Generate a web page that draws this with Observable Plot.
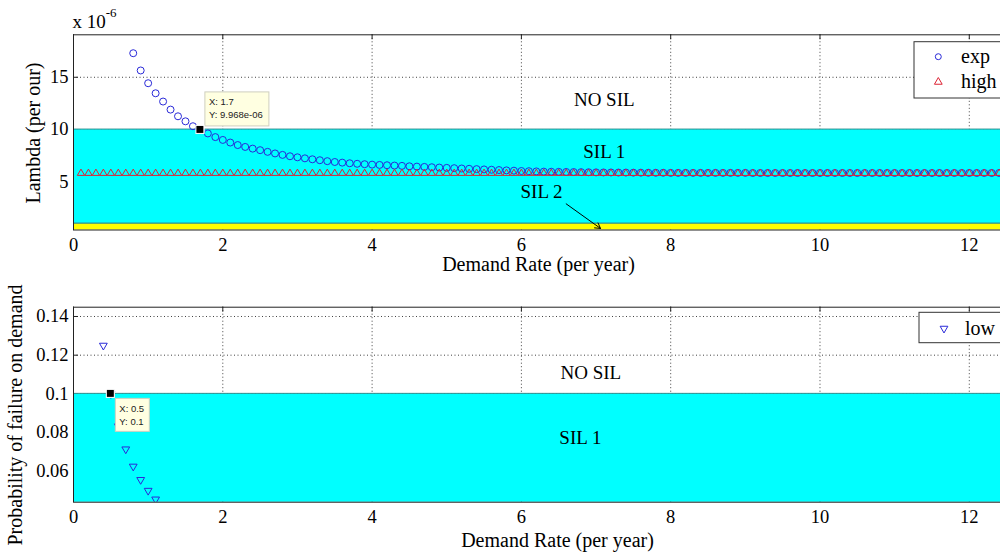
<!DOCTYPE html>
<html><head><meta charset="utf-8">
<script src="https://cdn.jsdelivr.net/npm/d3@7"></script>
<script src="https://cdn.jsdelivr.net/npm/@observablehq/plot@0.6"></script>
<style>
html,body{margin:0;padding:0;background:#fff;overflow:hidden;}
#fig{position:relative;width:1000px;height:555px;overflow:hidden;background:#fff;}
#fig svg{position:absolute;left:0;overflow:visible;max-width:none !important;}
</style></head><body><div id="fig"></div>
<script>
// ---------------- data ----------------
const xTicks = [0, 2, 4, 6, 8, 10, 12];
const topYTicks = [5, 10, 15];           // Lambda, x 10^-6
const bottomYTicks = [0.06, 0.08, 0.1, 0.12, 0.14];

// "exp" series: demand rate (per year) -> lambda (x 10^-6 per hour)
const expRate = [0.8,0.9,1.0,1.1,1.2,1.3,1.4,1.5,1.6,1.7,1.8,1.9,2.0,2.1,2.2,2.3,2.4,2.5,2.6,2.7,2.8,2.9,3.0,3.1,3.2,3.3,3.4,3.5,3.6,3.7,3.8,3.9,4.0,4.1,4.2,4.3,4.4,4.5,4.6,4.7,4.8,4.9,5.0,5.1,5.2,5.3,5.4,5.5,5.6,5.7,5.8,5.9,6.0,6.1,6.2,6.3,6.4,6.5,6.6,6.7,6.8,6.9,7.0,7.1,7.2,7.3,7.4,7.5,7.6,7.7,7.8,7.9,8.0,8.1,8.2,8.3,8.4,8.5,8.6,8.7,8.8,8.9,9.0,9.1,9.2,9.3,9.4,9.5,9.6,9.7,9.8,9.9,10.0,10.1,10.2,10.3,10.4,10.5,10.6,10.7,10.8,10.9,11.0,11.1,11.2,11.3,11.4,11.5,11.6,11.7,11.8,11.9,12.0,12.1,12.2,12.3,12.4];
const expLambda = [17.30,15.65,14.43,13.47,12.68,11.91,11.27,10.79,10.32,9.968,
  9.63,9.28,9.01,8.76,8.52,8.34,8.18,8.03,7.87,7.72,
  7.58,7.45,7.35,7.25,7.16,7.07,6.98,6.90,6.84,6.78,
  6.73,6.69,6.65,6.62,6.59,6.56,6.53,6.49,6.46,6.43,
  6.40,6.37,6.34,6.31,6.28,6.25,6.22,6.19,6.16,6.13,
  6.10,6.07,6.04,6.02,6.00,5.98,5.97,5.96,5.95,5.94,
  5.93,5.92,5.91,5.90,5.90,5.89,5.89,5.88,5.88,5.87,
  5.87,5.87,5.86,5.86,5.86,5.86,5.86,5.86,5.86,5.86,
  5.86,5.86,5.86,5.85,5.85,5.85,5.85,5.85,5.85,5.85,
  5.85,5.85,5.85,5.85,5.85,5.85,5.85,5.85,5.85,5.85,
  5.85,5.85,5.85,5.85,5.85,5.85,5.85,5.85,5.85,5.85,
  5.85,5.85,5.85,5.85,5.85,5.85,5.85];

// "high" series: constant lambda over the demand rate
const highRate = [0.1,0.2,0.3,0.4,0.5,0.6,0.7,0.8,0.9,1.0,1.1,1.2,1.3,1.4,1.5,1.6,1.7,1.8,1.9,2.0,2.1,2.2,2.3,2.4,2.5,2.6,2.7,2.8,2.9,3.0,3.1,3.2,3.3,3.4,3.5,3.6,3.7,3.8,3.9,4.0,4.1,4.2,4.3,4.4,4.5,4.6,4.7,4.8,4.9,5.0,5.1,5.2,5.3,5.4,5.5,5.6,5.7,5.8,5.9,6.0,6.1,6.2,6.3,6.4,6.5,6.6,6.7,6.8,6.9,7.0,7.1,7.2,7.3,7.4,7.5,7.6,7.7,7.8,7.9,8.0,8.1,8.2,8.3,8.4,8.5,8.6,8.7,8.8,8.9,9.0,9.1,9.2,9.3,9.4,9.5,9.6,9.7,9.8,9.9,10.0,10.1,10.2,10.3,10.4,10.5,10.6,10.7,10.8,10.9,11.0,11.1,11.2,11.3,11.4,11.5,11.6,11.7,11.8,11.9,12.0,12.1,12.2,12.3,12.4];
const highLambda = 5.82;

// "low" series: demand rate -> probability of failure on demand
const lowRate = [0.4, 0.5, 0.6, 0.7, 0.8, 0.9, 1.0, 1.1];
const lowPfd = [0.125, 0.1, 0.0833, 0.0714, 0.0625, 0.0556, 0.05, 0.0455];

// SIL bands
const topBandNames = ["SIL 1", "SIL 2"];
const topBandLo = [1, 0.1];
const topBandHi = [10, 1];
const topBandFill = ["#00ffff", "#ffff00"];
const bottomBandLo = [0.01];
const bottomBandHi = [0.1];

// annotations
const topNoteText = ["NO SIL", "SIL 1", "SIL 2"];
const topNoteX = [7.11, 7.11, 6.27];
const topNoteY = [12.85, 7.9, 4.05];
const bottomNoteText = ["NO SIL", "SIL 1"];
const bottomNoteX = [6.93, 6.79];
const bottomNoteY = [0.111, 0.0774];
const arrowFrom = [6.6, 2.9];
const arrowTo = [7.06, 0.55];

// data tips
const tipTop = {x: 1.7, y: 9.968, lines: ["X: 1.7", "Y: 9.968e-06"]};
const tipBottom = {x: 0.5, y: 0.1, lines: ["X: 0.5", "Y: 0.1"]};

// ---------------- tables ----------------
const expData = expRate.map((x, i) => ({x, y: expLambda[i]}));
const highData = highRate.map(x => ({x, y: highLambda}));
const lowData = lowRate.map((x, i) => ({x, y: lowPfd[i]}));
const topBands = topBandNames.map((n, i) => ({lo: topBandLo[i], hi: topBandHi[i], fill: topBandFill[i]}));
const bottomBands = bottomBandLo.map((lo, i) => ({lo, hi: bottomBandHi[i]}));
const topNotes = topNoteText.map((t, i) => ({t, x: topNoteX[i], y: topNoteY[i]}));
const bottomNotes = bottomNoteText.map((t, i) => ({t, x: bottomNoteX[i], y: bottomNoteY[i]}));

// ---------------- layout ----------------
const W = 1040, ML = 73;
const xDomain = [0, 12.954];
const SERIF = "Liberation Serif, Times New Roman, serif";
const SANS = "Liberation Sans, Arial, sans-serif";
const gridStyle = {stroke: "#000", strokeOpacity: 0.75, strokeDasharray: "1,2.5"};
const edge = "#2f8f8f";
const blue = "#2a2ad8", red = "#dd2233";

function panel({height, mt, mb, yDomain, yTicks, bands, marks}) {
  const plotH = height - mt - mb, plotW = W - ML;
  return Plot.plot({
    width: W, height, marginTop: mt, marginBottom: mb, marginLeft: ML, marginRight: 0,
    x: {domain: xDomain}, y: {domain: yDomain},
    style: {fontFamily: SERIF, fontSize: "18.5px", background: "transparent", overflow: "visible", color: "#000", maxWidth: "none"},
    marks: [
      Plot.ruleX(xTicks, {x: d => d, ...gridStyle}),
      Plot.ruleY(yTicks, {y: d => d, ...gridStyle}),
      Plot.tickX(xTicks, {x: d => d, insetTop: plotH - 5, stroke: "#222"}),
      Plot.tickX(xTicks, {x: d => d, insetBottom: plotH - 5, stroke: "#222"}),
      Plot.tickY(yTicks, {y: d => d, insetRight: plotW - 5, stroke: "#222"}),
      Plot.rect(bands, {y1: "lo", y2: "hi", fill: d => d.fill || "#00ffff", stroke: edge, strokeWidth: 1, clip: true}),
      ...marks,
      Plot.axisX({ticks: xTicks, tickSize: 0, tickPadding: 7.5, label: null, tickFormat: d => `${d}`, fontSize: 18.5}),
      Plot.axisY({ticks: yTicks, tickSize: 0, tickPadding: 5, label: null, tickFormat: d => `${d}`, fontSize: 18.5}),
      Plot.frame({stroke: "#222"})
    ]
  });
}

const topChart = panel({
  height: 278, mt: 34.3, mb: 48.5, yDomain: [0.4, 19.06], yTicks: topYTicks, bands: topBands,
  marks: [
    Plot.dot(expData, {x: "x", y: "y", r: 3.5, stroke: blue, strokeWidth: 1, clip: true}),
    Plot.dot(highData, {x: "x", y: "y", symbol: "triangle", r: 2.7, stroke: red, strokeWidth: 1, clip: true}),
    Plot.text(topNotes, {x: "x", y: "y", text: "t", fontSize: 19}),
    Plot.arrow([0], {x1: () => arrowFrom[0], y1: () => arrowFrom[1], x2: () => arrowTo[0], y2: () => arrowTo[1], stroke: "#000", strokeWidth: 1, headLength: 9}),
    Plot.dot([tipTop], {x: "x", y: "y", symbol: "square", r: 4, fill: "#000", stroke: "#fff", strokeWidth: 1}),
    Plot.text(["Demand Rate (per year)"], {frameAnchor: "bottom", dx: -18.5, dy: 40.5, fontSize: 20})
  ]
});

const bottomChart = panel({
  height: 277, mt: 28.7, mb: 53.3, yDomain: [0.044, 0.1448], yTicks: bottomYTicks, bands: bottomBands,
  marks: [
    Plot.dot(lowData, {x: "x", y: "y", symbol: "triangle", rotate: 180, r: 2.9, stroke: blue, strokeWidth: 1, clip: true}),
    Plot.text(bottomNotes, {x: "x", y: "y", text: "t", fontSize: 19}),
    Plot.dot([tipBottom], {x: "x", y: "y", symbol: "square", r: 4, fill: "#000", stroke: "#fff", strokeWidth: 1}),
    Plot.text(["Demand Rate (per year)"], {frameAnchor: "bottom", dx: 0.5, dy: 45, fontSize: 20})
  ]
});

const fig = document.getElementById("fig");
topChart.style.top = "0px";
bottomChart.style.top = "278px";
fig.appendChild(topChart);
fig.appendChild(bottomChart);

// rotated y-axis titles
function yTitle(svg, text, cx, cy) {
  d3.select(svg).append("text").attr("transform", `translate(${cx},${cy}) rotate(-90)`)
    .attr("text-anchor", "middle").attr("dy", "0.32em")
    .attr("font-family", SERIF).attr("font-size", 20).attr("fill", "#000").text(text);
}
yTitle(topChart, "Lambda (per our)", 34, 133);
yTitle(bottomChart, "Probability of failure on demand", 16, 415 - 278);

// data tip boxes
function dataTip(svg, tip, dx, dy, w, h) {
  const px = svg.scale("x").apply(tip.x), py = svg.scale("y").apply(tip.y);
  const g = d3.select(svg).append("g").attr("font-family", SANS).attr("font-size", 9.5).attr("text-anchor", "start");
  g.append("rect").attr("x", px + dx).attr("y", py + dy).attr("width", w).attr("height", h)
    .attr("fill", "#ffffe1").attr("stroke", "#cfcfbf");
  tip.lines.forEach((s, i) => g.append("text").attr("x", px + dx + 4).attr("y", py + dy + 13.5 + i * 13)
    .attr("fill", "#222").text(s));
  g.append("rect").attr("x", px - 4).attr("y", py - 4).attr("width", 8).attr("height", 8)
    .attr("fill", "#000").attr("stroke", "#fff");
}
dataTip(topChart, tipTop, 5, -37.5, 64, 34);
dataTip(bottomChart, tipBottom, 5, 5, 34, 33);

// legends
function legend(svg, x, y, w, h, items) {
  const g = d3.select(svg).append("g").attr("text-anchor", "start");
  g.append("rect").attr("x", x).attr("y", y).attr("width", w).attr("height", h).attr("fill", "#fff").attr("stroke", "#333");
  items.forEach(it => {
    const sym = d3.symbol(it.symbol, it.size)();
    g.append("path").attr("d", sym).attr("transform", `translate(${it.mx},${it.my}) rotate(${it.rot || 0})`)
      .attr("fill", "none").attr("stroke", it.color).attr("stroke-width", 1);
    g.append("text").attr("x", it.tx).attr("y", it.my).attr("dy", "0.32em")
      .attr("font-family", SERIF).attr("font-size", 20).attr("fill", "#000").text(it.label);
  });
}
legend(topChart, 914, 41.7, 130, 56.3, [
  {symbol: d3.symbolCircle, size: 28, color: blue, mx: 938.3, my: 56.7, tx: 961, label: "exp"},
  {symbol: d3.symbolTriangle, size: 26, color: red, mx: 938.3, my: 82, tx: 961, label: "high"}
]);
legend(bottomChart, 919, 312.3 - 278, 130, 30.4, [
  {symbol: d3.symbolTriangle, size: 26, color: blue, mx: 944, my: 328.5 - 278, tx: 965, rot: 180, label: "low"}
]);

// exponent label "x 10^-6"
const ex = d3.select(topChart).append("text").attr("x", 72.5).attr("y", 28.3).attr("text-anchor", "start")
  .attr("font-family", SERIF).attr("font-size", 19).attr("fill", "#000");
ex.append("tspan").text("x 10");
ex.append("tspan").attr("font-size", 13).attr("dy", -11).text("-6");
</script></body></html>
